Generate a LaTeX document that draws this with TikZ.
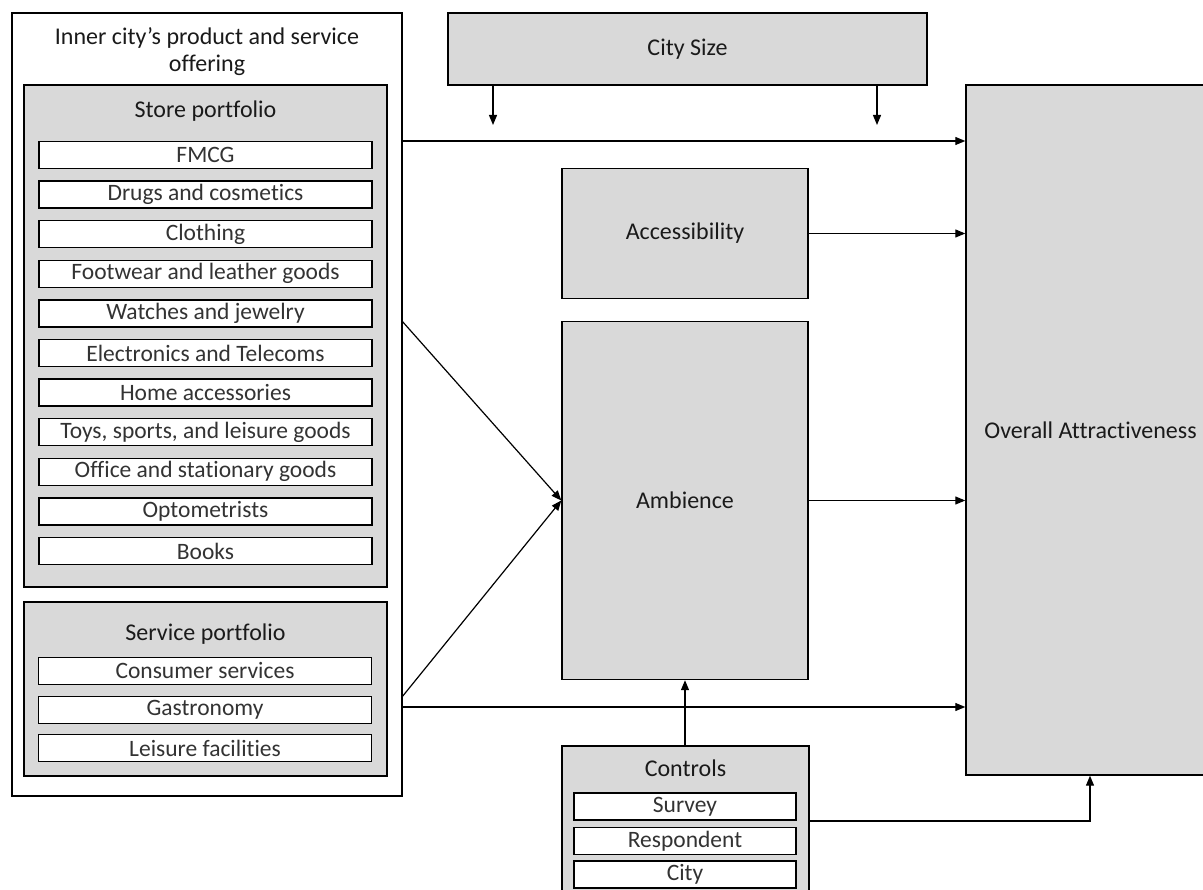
\documentclass[tikz,border=0pt]{standalone}
\usepackage{fontspec}
\setmainfont{Carlito}[RawFeature=-liga]
\usetikzlibrary{arrows.meta,calc}
\definecolor{boxgray}{HTML}{D9D9D9}
\definecolor{txt}{HTML}{1A1A1A}
\tikzset{
  base/.style={draw=black, line width=1.4pt, rectangle, inner sep=0pt, text=txt},
  whitebox/.style={base, fill=white},
  graybox/.style={base, fill=boxgray, font=\fontsize{24}{28}\selectfont},
  itembox/.style={base, fill=white, minimum width=333pt, minimum height=27pt, font=\fontsize{23.5}{26}\selectfont, text=black!80},
  citem/.style={itembox, minimum width=222pt},
  ttl/.style={inner sep=0pt, text=txt, font=\fontsize{24}{27}\selectfont, align=center},
  arr/.style={line width=1.2pt, -{Triangle[length=10pt,width=8pt]}},
  ln/.style={line width=1.2pt}
}
\begin{document}
\begin{tikzpicture}[x=1pt,y=-1pt]
\useasboundingbox (0,0) rectangle (1203,890);
% outer box
\node[whitebox, minimum width=390pt, minimum height=783pt] (outer) at (207,404.5) {};
\node[ttl] (outerttl) at (207,51.5) {Inner city’s product and service\\offering};
% store portfolio
\node[graybox, minimum width=363pt, minimum height=502pt] (store) at (205.5,336) {};
\node[ttl] (storettl) at (205.5,111) {Store portfolio};
\foreach \t [count=\i from 0] in {FMCG,Drugs and cosmetics,Clothing,Footwear and leather goods,Watches and jewelry,Electronics and Telecoms,Home accessories,{Toys, sports, and leisure goods},Office and stationary goods,Optometrists,Books}
  \node[itembox] (st\i) at (205.5,{155+39.6*\i}) {\t};
% service portfolio
\node[graybox, minimum width=363pt, minimum height=174pt] (service) at (205.5,689) {};
\node[ttl] (servttl) at (205.5,634) {Service portfolio};
\node[itembox] (sv0) at (205,671) {Consumer services};
\node[itembox] (sv1) at (205,710) {Gastronomy};
\node[itembox] (sv2) at (205,748) {Leisure facilities};
% city size
\node[graybox, minimum width=479pt, minimum height=72pt] (city) at (687.5,49) {City Size};
% accessibility, ambience
\node[graybox, minimum width=246pt, minimum height=130pt] (acc) at (685,233.5) {Accessibility};
\node[graybox, minimum width=246pt, minimum height=358pt] (amb) at (685,500.5) {Ambience};
% overall
\node[graybox, minimum width=249pt, minimum height=690pt] (overall) at (1090.5,430) {};
\node[ttl] (overallttl) at (1090.5,430) {Overall Attractiveness};
% controls
\node[graybox, minimum width=247pt, minimum height=164pt] (ctrl) at (685.5,828) {};
\node[ttl] (ctrlttl) at (685.5,768) {Controls};
\node[citem] (c0) at (685,806.5) {Survey};
\node[citem] (c1) at (685,841) {Respondent};
\node[citem] (c2) at (685,874.5) {City};
% coordinates
\coordinate (csA) at (493,125);
\coordinate (csB) at (877,125);
\coordinate (o141) at (402,141);
\coordinate (o321) at (402,321);
\coordinate (o697) at (402,697);
\coordinate (o707) at (402,707);
\coordinate (c821) at (809,821);
\coordinate (bend) at (1090,821);
% connectors
\draw[arr] (city.south -| csA) -- (csA);
\draw[arr] (city.south -| csB) -- (csB);
\draw[arr] (o141) -- (overall.west |- o141);
\draw[arr] (acc.east) -- (overall.west |- acc.east);
\draw[arr] (amb.east) -- (overall.west |- amb.east);
\draw[arr] (o321) -- (amb.west);
\draw[arr] (o697) -- (amb.west);
\draw[arr] (o707) -- (overall.west |- o707);
\draw[arr] (ctrl.north -| amb.south) -- (amb.south);
\draw[arr] (c821) -- (bend) -- (overall.south -| bend);
\end{tikzpicture}
\end{document}
